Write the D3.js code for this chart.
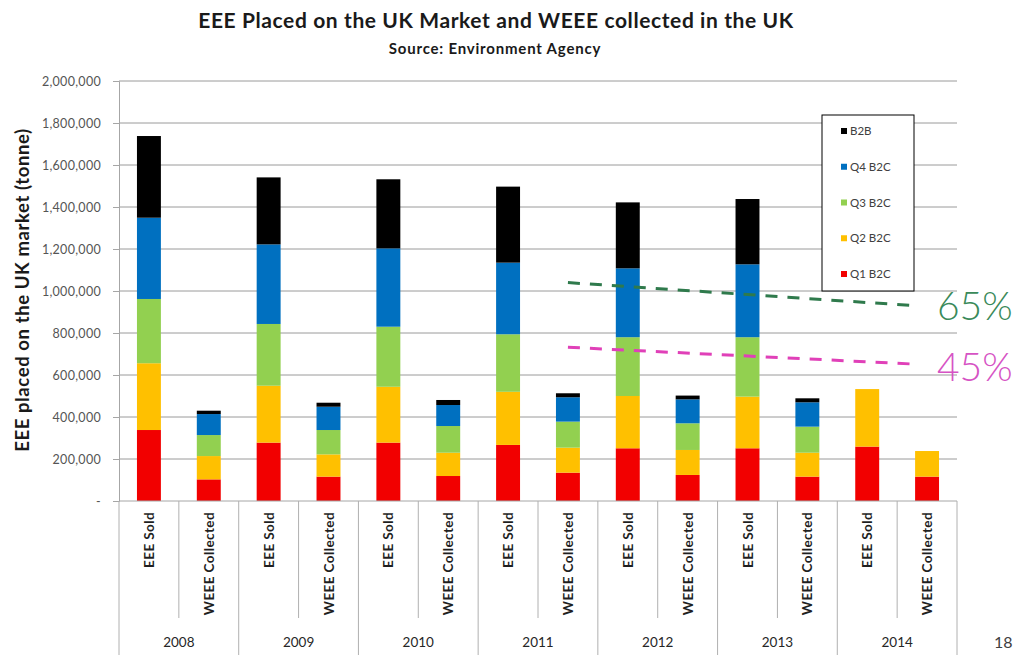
<!DOCTYPE html>
<html>
<head>
<meta charset="utf-8">
<script src="https://cdn.jsdelivr.net/npm/d3@7"></script>
<style>
  html, body { margin: 0; padding: 0; background: #ffffff; }
  svg { display: block; font-family: Lato, "Open Sans", sans-serif; }
</style>
</head>
<body>
<svg id="chart" width="1022" height="655"></svg>
<script>
// Years and the two bars shown for each year
const years = ["2008", "2009", "2010", "2011", "2012", "2013", "2014"];
const kinds = ["EEE Sold", "WEEE Collected"];

// Tonnes per bar, in year order, EEE Sold then WEEE Collected
const q1B2C = [338000, 103000, 278000, 116000, 278000, 119000, 267000, 135000, 251000, 124000, 251000, 116000, 259000, 116000];
const q2B2C = [318000, 111000, 271000, 106000, 266000, 111000, 253000, 119000, 249000, 119000, 246000, 114000, 274000, 122000];
const q3B2C = [306000, 100000, 294000, 116000, 286000, 127000, 274000, 124000, 280000, 127000, 283000, 124000, 0, 0];
const q4B2C = [387000, 100000, 379000, 111000, 373000, 100000, 341000, 116000, 328000, 114000, 347000, 116000, 0, 0];
const b2b   = [389000, 16000, 319000, 19000, 329000, 24000, 362000, 19000, 314000, 18000, 311000, 19000, 0, 0];

const seriesNames = ["Q1 B2C", "Q2 B2C", "Q3 B2C", "Q4 B2C", "B2B"];
const seriesColors = ["#f20000", "#ffc000", "#92d050", "#0070c0", "#000000"];

const yTicks = [0, 200000, 400000, 600000, 800000, 1000000, 1200000, 1400000, 1600000, 1800000, 2000000];

// Collection targets (65% and 45%), start and end values
const target65 = [1040000, 929000];
const target45 = [732000, 651000];
const targetLabels = ["65%", "45%"];

// Build rows for stacking
const categories = [];
years.forEach(yr => kinds.forEach(k => categories.push(yr + "|" + k)));
const rows = categories.map((c, i) => ({
  cat: c,
  "Q1 B2C": q1B2C[i], "Q2 B2C": q2B2C[i], "Q3 B2C": q3B2C[i], "Q4 B2C": q4B2C[i], "B2B": b2b[i]
}));

const svg = d3.select("#chart");
const plotLeft = 119, plotRight = 957, plotTop = 81, plotBottom = 501;

const x = d3.scaleBand().domain(categories).range([plotLeft, plotRight]).padding(0);
const y = d3.scaleLinear().domain([0, 2000000]).range([plotBottom, plotTop]);
const barW = x.bandwidth() * 0.4;
const barX = c => x(c) + (x.bandwidth() - barW) / 2;

// Title
svg.append("text").attr("x", 496).attr("y", 28).attr("text-anchor", "middle")
  .attr("font-size", 21).attr("font-weight", 700).attr("fill", "#1a1a1a")
  .attr("letter-spacing", 0.6)
  .text("EEE Placed on the UK Market and WEEE collected in the UK");
svg.append("text").attr("x", 495).attr("y", 54).attr("text-anchor", "middle")
  .attr("font-size", 15).attr("font-weight", 700).attr("fill", "#1a1a1a")
  .attr("letter-spacing", 0.8)
  .text("Source: Environment Agency");

// Gridlines
svg.append("g").selectAll("line").data(yTicks.filter(t => t > 0)).join("line")
  .attr("x1", plotLeft).attr("x2", plotRight)
  .attr("y1", d => y(d)).attr("y2", d => y(d))
  .attr("stroke", "#9a9a9a").attr("stroke-width", 1);

// Y axis
const yAxis = d3.axisLeft(y).tickValues(yTicks).tickSize(6).tickPadding(12)
  .tickFormat(d => d === 0 ? "-" : d3.format(",")(d));
const gy = svg.append("g").attr("transform", `translate(${plotLeft},0)`).call(yAxis);
gy.select(".domain").attr("stroke", "#a6a6a6");
gy.selectAll(".tick line").attr("stroke", "#a6a6a6");
gy.selectAll(".tick text").attr("font-size", 12.5).attr("fill", "#555555")
  .attr("font-family", "Lato, sans-serif").attr("letter-spacing", 0.3);

// Y axis title
svg.append("text")
  .attr("transform", "translate(29,290) rotate(-90)")
  .attr("text-anchor", "middle")
  .attr("font-size", 18.5).attr("font-weight", 700).attr("fill", "#1a1a1a")
  .attr("letter-spacing", 0.6)
  .text("EEE placed on the UK market (tonne)");

// Stacked bars
const stack = d3.stack().keys(seriesNames);
const layers = stack(rows);
svg.append("g").selectAll("g").data(layers).join("g")
  .attr("fill", (d, i) => seriesColors[i])
  .selectAll("rect").data(d => d.filter(p => p[1] > p[0])).join("rect")
  .attr("x", d => barX(d.data.cat))
  .attr("width", barW)
  .attr("y", d => y(d[1]))
  .attr("height", d => y(d[0]) - y(d[1]));

// X axis baseline and category separators
svg.append("line").attr("x1", plotLeft).attr("x2", plotRight).attr("y1", plotBottom).attr("y2", plotBottom)
  .attr("stroke", "#a6a6a6");
const sepIdx = d3.range(categories.length + 1);
svg.append("g").selectAll("line").data(sepIdx).join("line")
  .attr("x1", i => plotLeft + i * x.step()).attr("x2", i => plotLeft + i * x.step())
  .attr("y1", plotBottom)
  .attr("y2", i => i % 2 === 0 ? 655 : 618)
  .attr("stroke", "#b0b0b0").attr("stroke-width", 1);

// Rotated category labels
svg.append("g").selectAll("text").data(categories).join("text")
  .attr("transform", c => `translate(${x(c) + x.bandwidth() / 2 + 5},512) rotate(-90)`)
  .attr("text-anchor", "end")
  .attr("font-size", 13.5).attr("font-weight", 700).attr("fill", "#1f1f1f")
  .attr("letter-spacing", 0.4)
  .text(c => c.split("|")[1]);

// Year labels
svg.append("g").selectAll("text").data(years).join("text")
  .attr("x", yr => x(yr + "|" + kinds[0]) + x.step())
  .attr("y", 647)
  .attr("text-anchor", "middle")
  .attr("font-size", 13.5).attr("font-weight", 400).attr("fill", "#262626")
  .text(yr => yr);

// Target lines
const tx0 = x("2011|WEEE Collected") + x.bandwidth() / 2;
const tx1 = barX("2014|WEEE Collected") + 3;
const targets = [
  { v: target65, color: "#2f7a4c", label: targetLabels[0], lc: "#3a8a5a", ty: 320 },
  { v: target45, color: "#e040b8", label: targetLabels[1], lc: "#d653c4", ty: 381 }
];
targets.forEach(t => {
  svg.append("line")
    .attr("x1", tx0).attr("x2", tx1)
    .attr("y1", y(t.v[0])).attr("y2", y(t.v[1]))
    .attr("stroke", t.color).attr("stroke-width", 3)
    .attr("stroke-dasharray", "12,10");
  svg.append("text").attr("x", 937).attr("y", t.ty)
    .attr("font-size", 39).attr("font-weight", 300).attr("fill", t.lc)
    .text(t.label);
});

// Legend
const lg = svg.append("g");
lg.append("rect").attr("x", 822).attr("y", 115).attr("width", 92).attr("height", 176)
  .attr("fill", "#ffffff").attr("stroke", "#000000").attr("stroke-width", 1);
const legendOrder = seriesNames.slice().reverse();
const ly = d3.scalePoint().domain(legendOrder).range([131, 274]);
legendOrder.forEach(name => {
  const i = seriesNames.indexOf(name);
  lg.append("rect").attr("x", 841).attr("y", ly(name) - 3).attr("width", 6).attr("height", 6)
    .attr("fill", seriesColors[i]);
  lg.append("text").attr("x", 850).attr("y", ly(name) + 4)
    .attr("font-size", 11.5).attr("fill", "#404040").text(name);
});

// Page number
svg.append("text").attr("x", 994).attr("y", 648).attr("font-size", 16)
  .attr("fill", "#404040").text("18");
</script>
</body>
</html>
